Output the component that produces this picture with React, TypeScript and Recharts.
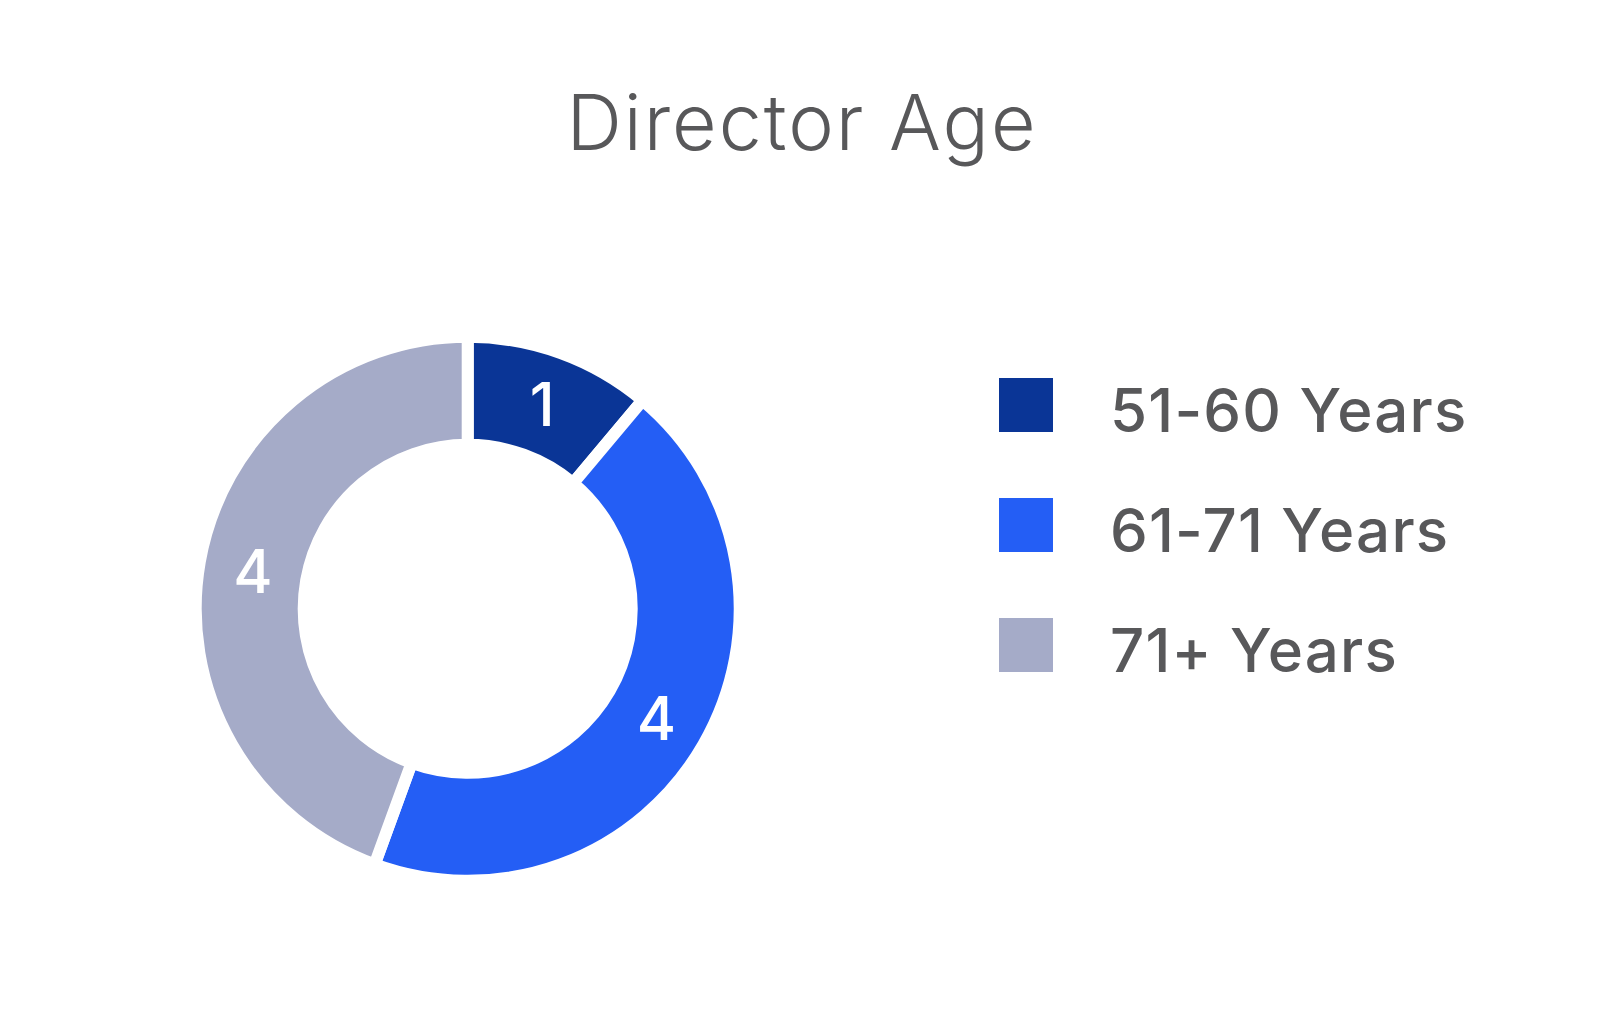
import React from 'react';
import { PieChart, Pie, Cell, Legend } from 'recharts';

const categories = ['51-60 Years', '61-71 Years', '71+ Years'];
const values = [1, 4, 4];
const colors = ['#0A3596', '#245EF5', '#A5ABC8'];
const title = 'Director Age';

const data = categories.map((name, i) => ({ name, value: values[i] }));

const RADIAN = Math.PI / 180;
const TEXT = '#58585a';
const FONT = 'Inter, Lato, "Open Sans", sans-serif';

const renderLabel = (props: any) => {
  const { cx, cy, midAngle, innerRadius, outerRadius, value } = props;
  const r = (innerRadius + outerRadius) / 2;
  const x = cx + r * Math.cos(-midAngle * RADIAN);
  const y = cy + r * Math.sin(-midAngle * RADIAN);
  return (
    <text
      x={x}
      y={y}
      fill="#ffffff"
      textAnchor="middle"
      dominantBaseline="central"
      fontSize={60}
      fontFamily={FONT}
      fontWeight={500}
    >
      {value}
    </text>
  );
};

const LegendContent = (props: any) => {
  const payload = props.payload && props.payload.length ? props.payload : [];
  const items = categories.map((name, i) => {
    const p = payload.find((e: any) => e.value === name);
    return { name, color: (p && p.color) || colors[i] };
  });
  return (
    <svg width={560} height={320} style={{ display: 'block', overflow: 'visible' }}>
      {items.map((it, i) => (
        <g key={it.name}>
          <rect x={0} y={i * 120} width={54} height={54} fill={it.color} />
          <text
            x={111}
            y={i * 120 + 54}
            fontSize={60}
            fontFamily={FONT}
            fontWeight={500}
            letterSpacing={1.2}
            fill={TEXT}
          >
            {it.name}
          </text>
        </g>
      ))}
    </svg>
  );
};

export default function App() {
  return (
    <div style={{ position: 'absolute', left: 0, top: 0, width: 1608, height: 1032, background: '#fff' }}>
      <svg
        width={1608}
        height={200}
        style={{ position: 'absolute', left: 0, top: 0, pointerEvents: 'none' }}
      >
        <text
          x={802}
          y={150}
          textAnchor="middle"
          fontSize={77}
          fontFamily={FONT}
          fontWeight={300}
          letterSpacing={2}
          fill={TEXT}
        >
          {title}
        </text>
      </svg>
      <div style={{ position: 'absolute', left: 0, top: 0 }}>
        <PieChart width={1608} height={1032} margin={{ top: 0, right: 0, bottom: 0, left: 0 }}>
          <Pie
            data={data}
            dataKey="value"
            nameKey="name"
            cx={467.7}
            cy={608.8}
            innerRadius={164}
            outerRadius={272}
            startAngle={90}
            endAngle={-270}
            stroke="#ffffff"
            strokeWidth={12}
            label={renderLabel}
            labelLine={false}
            legendType="square"
            isAnimationActive={false}
          >
            {data.map((d, i) => (
              <Cell key={d.name} fill={colors[i]} />
            ))}
          </Pie>
          <Legend
            layout="vertical"
            align="right"
            verticalAlign="top"
            content={<LegendContent />}
            wrapperStyle={{ position: 'absolute', left: 999, top: 378, width: 560, height: 320 }}
          />
        </PieChart>
      </div>
    </div>
  );
}
